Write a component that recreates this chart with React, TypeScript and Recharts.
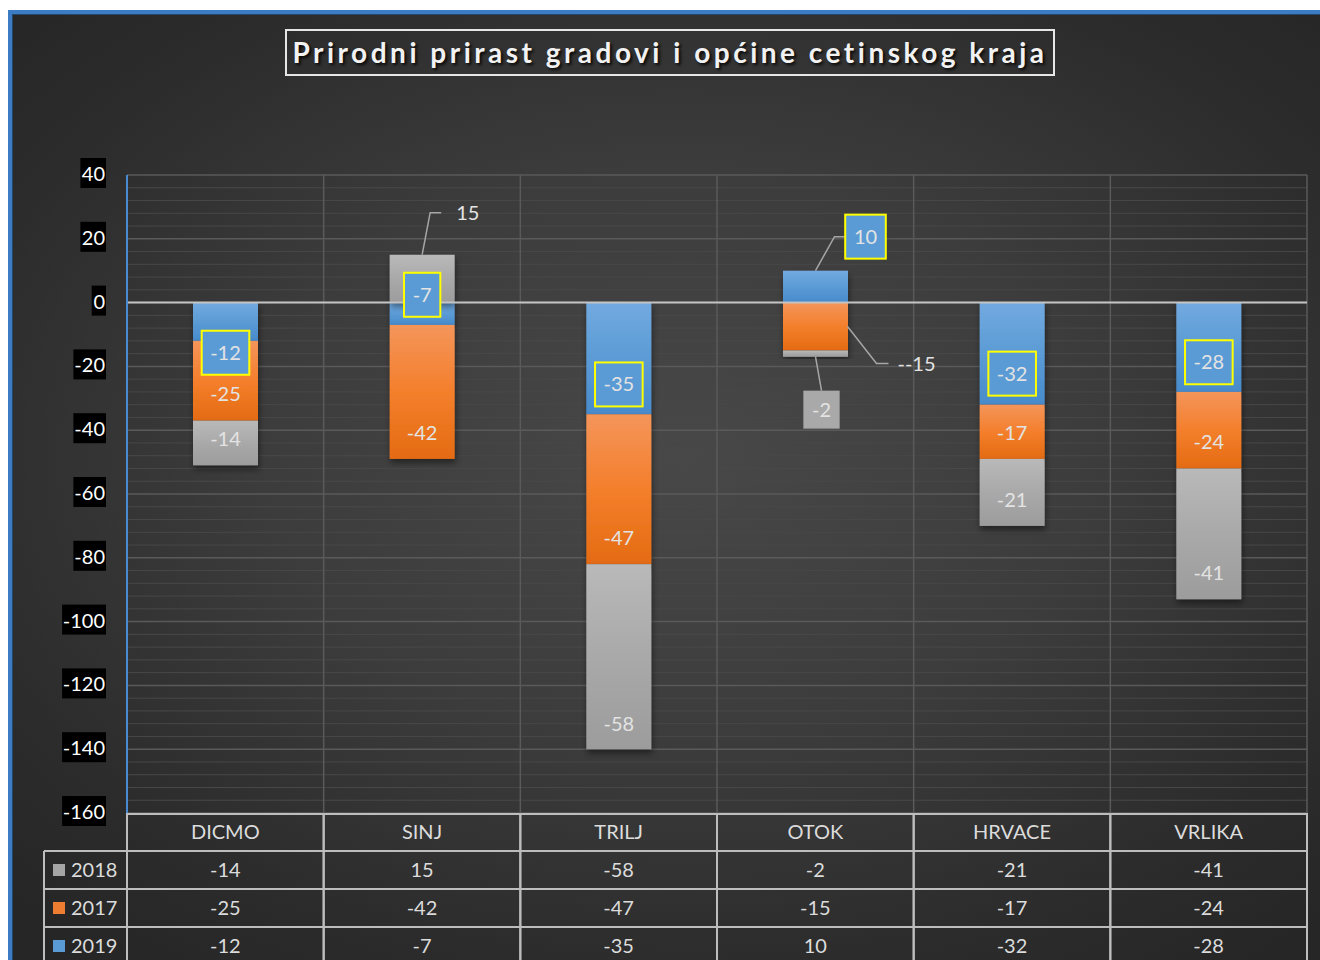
import React from "react";
import { BarChart, Bar, XAxis, YAxis, CartesianGrid, ReferenceLine, LabelList } from "recharts";

const categories = ["DICMO", "SINJ", "TRILJ", "OTOK", "HRVACE", "VRLIKA"];
const values2019 = [-12, -7, -35, 10, -32, -28];
const values2017 = [-25, -42, -47, -15, -17, -24];
const values2018 = [-14, 15, -58, -2, -21, -41];
const yTicks = [40, 20, 0, -20, -40, -60, -80, -100, -120, -140, -160];

const data = categories.map((name, i) => ({
  name,
  y2019: values2019[i],
  y2017: values2017[i],
  y2018: values2018[i],
}));

const tableRows = [
  { label: "2018", values: values2018, color: "#a5a5a5" },
  { label: "2017", values: values2017, color: "#ed7d31" },
  { label: "2019", values: values2019, color: "#5b9bd5" },
];

// label placement (manual moves as in the original workbook)
type LabelStyle = { dx: number; dy: number; leader?: number[][]; anchor?: "start" | "middle"; box?: string; prefix?: string };
const blueLabels: LabelStyle[] = [
  { dx: 0, dy: 31, box: "#5b9bd5" },
  { dx: 0, dy: -19, box: "#5b9bd5" },
  { dx: 0, dy: 26, box: "#5b9bd5" },
  { dx: 50, dy: -50, box: "#5b9bd5", leader: [[0, -16], [19, -50], [30, -50]] },
  { dx: 0, dy: 20, box: "#5b9bd5" },
  { dx: 0, dy: 15, box: "#5b9bd5" },
];
const orangeLabels: LabelStyle[] = [
  { dx: 0, dy: 13 },
  { dx: 0, dy: 41 },
  { dx: 0, dy: 49 },
  { dx: 82, dy: 37, anchor: "start", prefix: "-", leader: [[32, 0], [61, 37], [73, 37]] },
  { dx: 0, dy: 1 },
  { dx: 0, dy: 12 },
];
const grayLabels: LabelStyle[] = [
  { dx: 0, dy: -4 },
  { dx: 34, dy: -66, anchor: "start", leader: [[0, -24], [8, -66], [19, -66]] },
  { dx: 0, dy: 67 },
  { dx: 6, dy: 56, box: "#a9a9a9", leader: [[0, 3], [6, 37]] },
  { dx: 0, dy: 8 },
  { dx: 0, dy: 39 },
];

const FONT = "Lato, 'Open Sans', sans-serif";
const TEXT = "#dcdcdc";
const PLOT_W = 1180;
const BW = PLOT_W / categories.length;

const textWidth = (t: string) => {
  let w = 0;
  for (const ch of t) w += ch === "-" ? 7 : 11.3;
  return w;
};

const makeLabel = (styles: LabelStyle[]) => (props: any) => {
  const { x, y, width, height, value, index } = props;
  const s = styles[index];
  if (!s) return null;
  const cx = Number(x) + Number(width) / 2;
  const cy = Number(y) + Number(height) / 2;
  const lx = cx + s.dx;
  const ly = cy + s.dy;
  const txt = (s.prefix ?? "") + String(value);
  const bw = textWidth(txt) + 18;
  return (
    <g>
      {s.leader && (
        <polyline
          points={s.leader.map(([a, b]) => `${cx + a},${cy + b}`).join(" ")}
          fill="none"
          stroke="#a6a6a6"
          strokeWidth={1.5}
        />
      )}
      {s.box === "#5b9bd5" && (
        <rect x={lx - bw / 2} y={ly - 22} width={bw} height={44} fill={s.box} stroke="#ffff00" strokeWidth={2} />
      )}
      {s.box && s.box !== "#5b9bd5" && (
        <rect x={lx - bw / 2} y={ly - 19} width={bw} height={38} fill={s.box} />
      )}
      <text
        x={lx}
        y={ly}
        dy={7}
        textAnchor={s.anchor ?? "middle"}
        fill="#e3e3e3"
        fontSize={20}
        fontFamily={FONT}
      >
        {txt}
      </text>
    </g>
  );
};

const YTick = ({ x, y, payload }: any) => {
  const t = String(payload.value);
  const w = textWidth(t) + 3;
  return (
    <g>
      <rect x={x - w + 1} y={y - 17} width={w} height={30} fill="#000" />
      <text x={x} y={y} dy={6} textAnchor="end" fill="#fff" fontSize={20} fontFamily={FONT}>
        {t}
      </text>
    </g>
  );
};

const XTick = ({ x, y, payload, index }: any) => {
  const left = x - BW / 2;
  const right = x + BW / 2;
  const lines = [y + 1, y + 38, y + 76, y + 114];
  const stroke = "#bdbdbd";
  return (
    <g fontFamily={FONT} fontSize={20}>
      {lines.map((ly, k) => (
        <line key={k} x1={left} x2={right} y1={ly} y2={ly} stroke={stroke} strokeWidth={2} />
      ))}
      <line x1={left} x2={left} y1={y} y2={y + 170} stroke={stroke} strokeWidth={2} />
      <line x1={right} x2={right} y1={y} y2={y + 170} stroke={stroke} strokeWidth={2} />
      <text x={x} y={y + 19} dy={7} textAnchor="middle" fill={TEXT}>
        {payload.value}
      </text>
      {tableRows.map((r, k) => (
        <text key={r.label} x={x} y={y + 57 + k * 38} dy={7} textAnchor="middle" fill={TEXT}>
          {r.values[index]}
        </text>
      ))}
      {index === 0 && (
        <g>
          {lines.slice(1).map((ly, k) => (
            <line key={k} x1={44} x2={left} y1={ly} y2={ly} stroke={stroke} strokeWidth={2} />
          ))}
          <line x1={44} x2={44} y1={lines[1]} y2={y + 170} stroke={stroke} strokeWidth={2} />
          {tableRows.map((r, k) => (
            <g key={r.label}>
              <rect x={53} y={y + 51 + k * 38} width={12} height={12} fill={r.color} />
              <text x={71} y={y + 57 + k * 38} dy={7} fill={TEXT}>
                {r.label}
              </text>
            </g>
          ))}
        </g>
      )}
    </g>
  );
};

const barShape = (fill: string) => (props: any) => {
  const { x, y, width, height } = props;
  if (!height) return <g />;
  const top = height < 0 ? y + height : y;
  return <rect x={x} y={top} width={width} height={Math.abs(height)} fill={fill} filter="url(#barShadow)" />;
};

const minorGrid = ({ offset }: any) => {
  const out: number[] = [];
  for (let v = 36; v > -160; v -= 4) {
    if (v % 20 !== 0) out.push(offset.top + ((40 - v) / 200) * offset.height);
  }
  return out;
};

const bandEdges = ({ offset }: any) =>
  [0, 1, 2, 3, 4, 5, 6].map((i) => offset.left + (i * offset.width) / 6);

export default function App() {
  return (
    <div style={{ position: "relative", width: 1320, height: 960, overflow: "hidden" }}>
      <style>{`body{margin:0;overflow:hidden;}`}</style>
      <div
        style={{
          position: "absolute",
          left: 8,
          top: 10,
          width: 1340,
          height: 980,
          borderLeft: "4px solid #3b7cc4",
          borderTop: "4px solid #3b7cc4",
          boxShadow: "inset 1px 1px 0 #25476b",
          background:
            "radial-gradient(ellipse 70% 65% at 50% 45%, #484848 0%, #3c3c3c 45%, #2c2c2c 80%, #262626 100%)",
        }}
      />
      <div
        style={{
          position: "absolute",
          left: 285,
          top: 29,
          width: 766,
          height: 43,
          border: "2px solid #e6e6e6",
          color: "#f2f2f2",
          fontFamily: FONT,
          fontWeight: 700,
          fontSize: 28,
          letterSpacing: 3.5,
          lineHeight: "43px",
          textAlign: "center",
          whiteSpace: "nowrap",
          textShadow: "2px 2px 3px rgba(0,0,0,0.85)",
        }}
      >
        Prirodni prirast gradovi i općine cetinskog kraja
      </div>
      <div style={{ position: "absolute", left: 0, top: 0 }}>
        <BarChart
          width={1320}
          height={980}
          data={data}
          stackOffset="sign"
          barSize={65}
          margin={{ top: 175, right: 13, left: 0, bottom: 0 }}
        >
          <defs>
            <linearGradient id="gBlue" x1="0" y1="0" x2="0" y2="1">
              <stop offset="0%" stopColor="#72aae0" />
              <stop offset="50%" stopColor="#5b9bd5" />
              <stop offset="100%" stopColor="#478bcc" />
            </linearGradient>
            <linearGradient id="gOrange" x1="0" y1="0" x2="0" y2="1">
              <stop offset="0%" stopColor="#f4955a" />
              <stop offset="50%" stopColor="#f47f2c" />
              <stop offset="100%" stopColor="#e46b12" />
            </linearGradient>
            <linearGradient id="gGray" x1="0" y1="0" x2="0" y2="1">
              <stop offset="0%" stopColor="#b9b9b9" />
              <stop offset="50%" stopColor="#a9a9a9" />
              <stop offset="100%" stopColor="#9c9c9c" />
            </linearGradient>
            <filter id="barShadow" x="-20%" y="-20%" width="140%" height="140%">
              <feDropShadow dx="1" dy="4" stdDeviation="3" floodColor="#000" floodOpacity="0.45" />
            </filter>
          </defs>
          <CartesianGrid
            horizontal={true}
            vertical={false}
            horizontalCoordinatesGenerator={minorGrid}
            stroke="#484848"
            strokeWidth={1}
          />
          <CartesianGrid
            horizontal={true}
            vertical={true}
            verticalCoordinatesGenerator={bandEdges}
            stroke="#5a5a5a"
            strokeWidth={1.5}
          />
          <XAxis
            dataKey="name"
            axisLine={false}
            tickLine={false}
            tickSize={0}
            tickMargin={0}
            height={167}
            interval={0}
            tick={<XTick />}
          />
          <YAxis
            width={127}
            domain={[-160, 40]}
            ticks={yTicks}
            interval={0}
            allowDataOverflow
            axisLine={{ stroke: "#4a8ad0", strokeWidth: 2 }}
            tickLine={false}
            tickSize={0}
            tickMargin={22}
            tick={<YTick />}
          />
          <Bar dataKey="y2019" stackId="a" isAnimationActive={false} shape={barShape("url(#gBlue)")}>
            <LabelList dataKey="y2019" content={makeLabel(blueLabels)} />
          </Bar>
          <Bar dataKey="y2017" stackId="a" isAnimationActive={false} shape={barShape("url(#gOrange)")}>
            <LabelList dataKey="y2017" content={makeLabel(orangeLabels)} />
          </Bar>
          <Bar dataKey="y2018" stackId="a" isAnimationActive={false} shape={barShape("url(#gGray)")}>
            <LabelList dataKey="y2018" content={makeLabel(grayLabels)} />
          </Bar>
          <ReferenceLine y={0} stroke="#c4c4c4" strokeWidth={2} />
        </BarChart>
      </div>
    </div>
  );
}
